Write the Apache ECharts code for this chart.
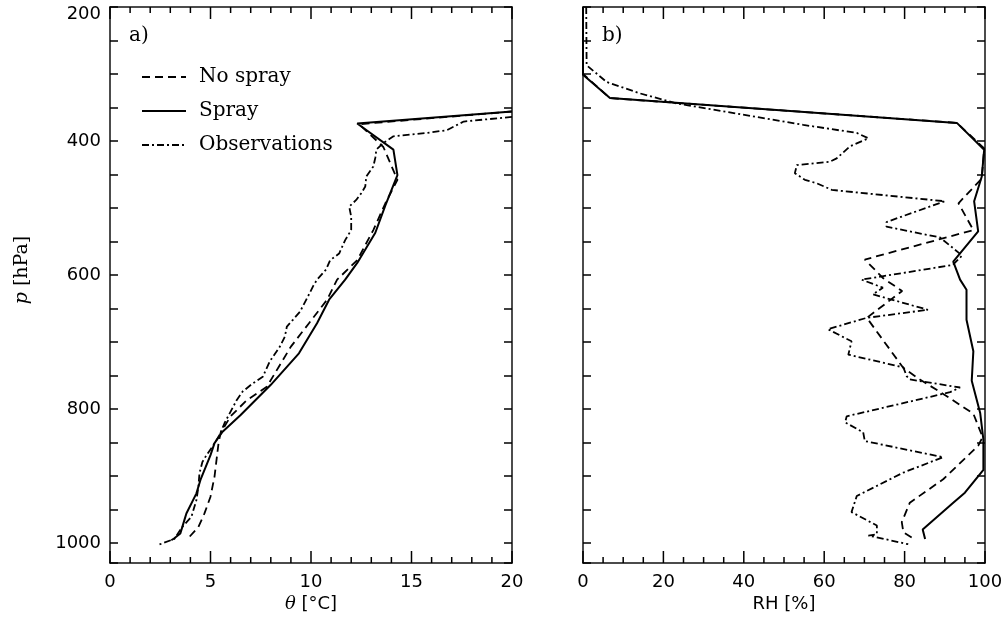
<!DOCTYPE html>
<html>
<head>
<meta charset="utf-8">
<script src="https://cdn.jsdelivr.net/npm/echarts@6/dist/echarts.min.js"></script>
<style>
  html, body { margin: 0; padding: 0; background: #fff; }
  #chart { width: 1008px; height: 627px; }
</style>
</head>
<body>
<div id="chart"></div>
<script>
// profiles as [value, pressure hPa]
// panel a) potential temperature
const thetaSpray = [[20,356],[12.3,374],[14.1,413],[14.3,451],[13.7,496],[13.2,537],[12.3,582],[11.7,607],[10.9,637],[10.3,672],[9.4,717],[8.0,764],[6.5,809],[5.6,834],[5.2,851],[5.0,869],[4.5,906],[4.3,926],[3.8,956],[3.7,966],[3.5,986],[3.2,993],[3.05,996]]
const thetaNoSpray = [[20,356],[12.4,375],[13.6,409],[14.3,458],[13.7,493],[13.1,533],[12.3,578],[11.3,607],[10.8,637],[9.9,672],[9.0,707],[8.4,737],[7.8,767],[6.8,787],[6.0,811],[5.5,836],[5.4,851],[5.2,901],[5.0,931],[4.7,956],[4.4,976],[3.8,996]]
const thetaObs = [[20,364],[17.6,371],[16.75,384],[15.75,388],[14.1,393],[13.6,403],[13.25,413],[13.2,425],[13.1,438],[12.75,453],[12.7,468],[12.5,478],[12.25,488],[11.9,498],[12.0,513],[12.0,533],[11.7,548],[11.4,568],[10.95,578],[10.75,592],[10.3,607],[10.1,617],[9.85,632],[9.45,655],[9.1,667],[8.8,677],[8.7,692],[8.45,707],[7.95,729],[7.6,752],[7.1,762],[6.6,774],[6.3,787],[6.0,804],[5.7,821],[5.45,839],[5.1,856],[4.8,869],[4.6,879],[4.45,896],[4.4,916],[4.3,936],[4.05,961],[3.6,976],[3.2,994],[2.4,1003]]

// panel b) relative humidity
const rhSpray = [[0,200],[0,301],[6.7,336],[93.0,373],[99.8,413],[99.2,453],[97.3,490],[98.3,535],[92.1,580],[93.8,607],[95.4,622],[95.4,667],[97.1,714],[96.7,758],[98.8,806],[99.6,846],[99.6,891],[95.0,925],[92.1,940],[84.5,980],[85.1,994]]
const rhNoSpray = [[0,200],[0,300],[6.7,336],[93.0,373],[99.8,411],[99.2,456],[93.4,493],[97.1,533],[70.1,577],[74.7,605],[79.4,624],[70.6,664],[79.7,739],[83.8,756],[90.5,781],[97.1,807],[99.4,842],[98.3,855],[89.6,905],[81.3,940],[79.3,969],[79.7,984],[81.8,992]]
const rhObs = [[0.8,200],[0.9,287],[5.9,312],[14.2,329],[23.3,344],[38.2,359],[54.8,376],[68.1,388],[71.0,396],[66.4,408],[63.1,426],[61.4,431],[53.2,436],[52.7,448],[55.2,458],[58.1,463],[61.9,473],[90.0,490],[75.5,521],[75.5,528],[88.8,544],[94.3,571],[92.0,585],[69.3,607],[74.6,619],[72.1,629],[85.8,652],[70.6,664],[60.9,681],[66.8,699],[66.0,719],[79.7,738],[80.5,751],[81.3,756],[93.8,768],[91.3,775],[65.6,811],[65.2,820],[69.7,835],[70.1,848],[89.6,872],[79.7,895],[68.1,930],[66.8,954],[73.1,974],[73.1,987],[71.0,989],[80.9,1002]]

// tick positions on the horizontal axes
const thetaMajorTicks = [0, 5, 10, 15, 20]
const thetaMinorTicks = [1, 2, 3, 4, 6, 7, 8, 9, 11, 12, 13, 14, 16, 17, 18, 19]
const rhMajorTicks = [0, 20, 40, 60, 80, 100]
const rhMinorTicks = [5, 10, 15, 25, 30, 35, 45, 50, 55, 65, 70, 75, 85, 90, 95]

const names = ['No spray', 'Spray', 'Observations']
const pMin = 200, pMax = 1030

const black = '#111'
const sans = '"DejaVu Sans", sans-serif'
const serif = '"DejaVu Serif", serif'
const dashed = [8, 5]
const dashDot = [7, 3, 2, 3]

let myChart = echarts.init(document.getElementById('chart'))

function xAx(grid, pos, max, step, label) {
  return {
    type: 'value', gridIndex: grid, position: pos, min: 0, max: max, interval: step,
    axisLine: { show: true, onZero: false, lineStyle: { color: black, width: 1.5 } },
    axisTick: { show: false },
    axisLabel: { show: label, margin: 10, color: '#000', fontFamily: sans, fontSize: 18 },
    splitLine: { show: false }
  }
}

function yAx(grid, pos, label) {
  return {
    type: 'value', gridIndex: grid, position: pos, inverse: true,
    min: pMin, max: pMax, interval: 50,
    axisLine: { show: true, onZero: false, lineStyle: { color: black, width: 1.5 } },
    axisTick: { show: true, inside: true, length: 8, lineStyle: { color: '#000', width: 1.5, type: 'solid' } },
    axisLabel: {
      show: label, margin: 9, color: '#000', fontFamily: sans, fontSize: 18,
      formatter: v => v === 200 ? '{top|200}' : (v % 200 === 0 ? String(v) : ''),
      rich: { top: { padding: [14, 0, 0, 0], fontFamily: sans, fontSize: 18, color: '#000' } }
    },
    splitLine: { show: false }
  }
}

function profile(name, data, idx, kind) {
  return {
    name: name, type: 'line', data: data,
    xAxisIndex: idx, yAxisIndex: idx,
    symbol: 'none', clip: true, animation: false, color: '#000',
    lineStyle: { color: '#000', width: kind === 'solid' ? 2 : 1.8, type: kind === 'solid' ? 'solid' : kind }
  }
}

// inward ticks on bottom and top frame, placed through the x scale
function ticks(values, idx, len) {
  return {
    type: 'custom', xAxisIndex: idx, yAxisIndex: idx, silent: true, animation: false,
    data: values.map(v => [v, pMax]),
    renderItem: (params, api) => {
      const b = api.coord([api.value(0), pMax])
      const t = api.coord([api.value(0), pMin])
      const st = { stroke: '#000', lineWidth: 1.5 }
      return {
        type: 'group', children: [
          { type: 'line', shape: { x1: b[0], y1: b[1], x2: b[0], y2: b[1] - len }, style: st },
          { type: 'line', shape: { x1: t[0], y1: t[1], x2: t[0], y2: t[1] + len }, style: st }
        ]
      }
    }
  }
}

const axisName = { font: '18px "DejaVu Sans", sans-serif', fill: '#000', align: 'center', verticalAlign: 'middle' }

const option = {
  backgroundColor: '#fff',
  animation: false,
  grid: [
    { left: 110, top: 7, width: 402, height: 556 },
    { left: 583, top: 7, width: 402, height: 556 }
  ],
  xAxis: [
    xAx(0, 'bottom', 20, 5, true),
    xAx(1, 'bottom', 100, 20, true),
    xAx(0, 'top', 20, 5, false),
    xAx(1, 'top', 100, 20, false)
  ],
  yAxis: [
    yAx(0, 'left', true),
    yAx(1, 'left', false),
    yAx(0, 'right', false),
    yAx(1, 'right', false)
  ],
  legend: {
    data: names, orient: 'vertical', left: 136, top: 62,
    itemWidth: 44, itemHeight: 14, itemGap: 14,
    itemStyle: { opacity: 0 },
    textStyle: { fontFamily: serif, fontSize: 20, color: '#000', padding: [0, 0, 0, 8] },
    selectedMode: false
  },
  graphic: [
    { type: 'text', left: 129, top: 26, style: { text: 'a)', font: '20px "DejaVu Serif", serif', fill: '#000' } },
    { type: 'text', left: 602, top: 26, style: { text: 'b)', font: '20px "DejaVu Serif", serif', fill: '#000' } },
    {
      type: 'text', x: 22, y: 270, rotation: Math.PI / 2,
      style: {
        text: '{i|p} [hPa]', fill: '#000', align: 'center', verticalAlign: 'middle',
        font: '19px "DejaVu Serif", serif',
        rich: { i: { fontStyle: 'italic', fontFamily: serif, fontSize: 19 } }
      }
    },
    {
      type: 'text', x: 311, y: 604,
      style: Object.assign({ text: '{i|θ} [°C]', rich: { i: { fontStyle: 'italic', fontFamily: serif, fontSize: 18 } } }, axisName)
    },
    { type: 'text', x: 784, y: 604, style: Object.assign({ text: 'RH [%]' }, axisName) }
  ],
  series: [
    profile(names[0], thetaNoSpray, 0, dashed),
    profile(names[1], thetaSpray, 0, 'solid'),
    profile(names[2], thetaObs, 0, dashDot),
    profile(names[0], rhNoSpray, 1, dashed),
    profile(names[1], rhSpray, 1, 'solid'),
    profile(names[2], rhObs, 1, dashDot),
    ticks(thetaMajorTicks, 0, 12),
    ticks(thetaMinorTicks, 0, 6),
    ticks(rhMajorTicks, 1, 12),
    ticks(rhMinorTicks, 1, 6)
  ]
}

myChart.setOption(option)
</script>
</body>
</html>
